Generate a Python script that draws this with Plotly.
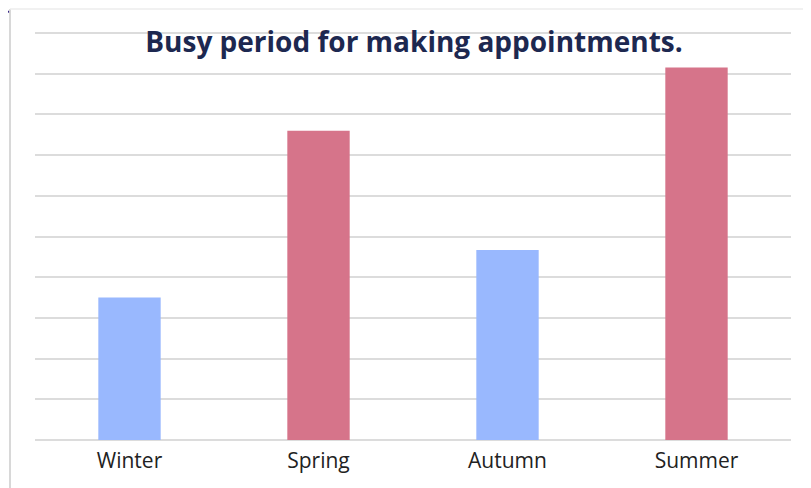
import plotly.graph_objects as go

categories = ["Winter", "Spring", "Autumn", "Summer"]
values = [3.5, 7.6, 4.67, 9.15]
bar_colors = ["#99b8fe", "#d6748a", "#99b8fe", "#d6748a"]
title_text = "Busy period for making appointments."

# the page body adds an 8px offset; compensate
OFF = 8
W, H = 811 - OFF, 488 - OFF
L, T = 35 - OFF, 31 - OFF
pw, ph = 756, 409
R, B = W - L - pw, H - T - ph
y_top = 10 * ph / 407.0

def px(x):
    return (x - OFF - L) / pw

def py(y):
    return 1 - (y - OFF - T) / ph

fig = go.Figure(go.Bar(
    x=categories, y=values, marker_color=bar_colors,
    marker_line_width=0, width=0.33,
))

shapes = [
    dict(type="line", xref="paper", yref="paper", x0=px(10), x1=px(10), y0=py(9), y1=py(500),
         line=dict(color="#d8d8d8", width=2)),
    dict(type="line", xref="paper", yref="paper", x0=px(10), x1=px(811), y0=py(9), y1=py(9),
         line=dict(color="#ececec", width=1.5)),
    dict(type="line", xref="paper", yref="paper", x0=px(0), x1=px(25), y0=py(17), y1=py(-2),
         line=dict(color="#25137a", width=3.5, dash="dash")),
]

fig.update_layout(
    width=W, height=H,
    margin=dict(l=L, r=R, t=T, b=B),
    paper_bgcolor="white", plot_bgcolor="white",
    showlegend=False,
    bargap=0.67,
    title=dict(text="<b>" + title_text + "</b>",
               xref="container", yref="container",
               x=(414 - OFF) / W, xanchor="center", y=1 - (42 - OFF) / H, yanchor="middle",
               font=dict(family="Open Sans", size=28, color="#1d2850")),
    xaxis=dict(showgrid=False, showline=False, ticks="", ticklabelstandoff=6,
               tickfont=dict(family="Open Sans", size=21, color="#222222")),
    yaxis=dict(range=[0, y_top], dtick=1, showticklabels=False, showgrid=True,
               gridcolor="#dcdcdc", gridwidth=2, zeroline=True, zerolinecolor="#dcdcdc", zerolinewidth=2,
               showline=False),
    shapes=shapes,
)

fig.write_html("out.html")
